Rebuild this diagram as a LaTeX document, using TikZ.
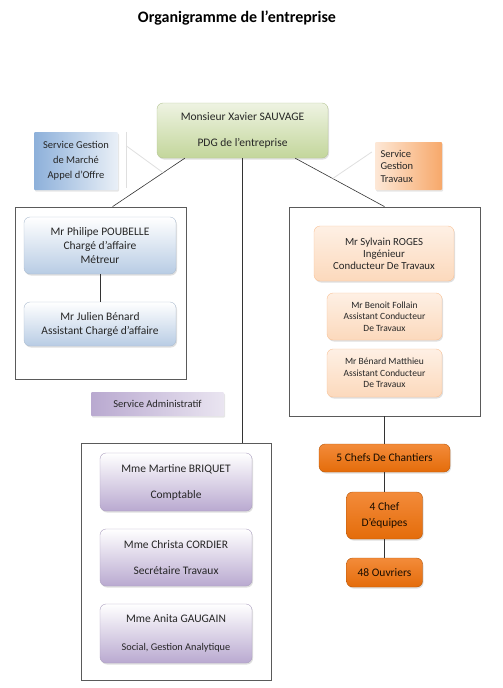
\documentclass[tikz,border=0pt]{standalone}
\usepackage{fontspec}
\setmainfont{Carlito}
\usepackage{xcolor}
\usetikzlibrary{positioning, calc, shadows}

\definecolor{pdggreen}{HTML}{C3D69B}
\definecolor{pdglight}{HTML}{EEF3E2}
\definecolor{bluebox}{HTML}{B8CCE4}
\definecolor{bluedark}{HTML}{8DB0DA}
\definecolor{orlight}{HTML}{FCD9BC}
\definecolor{ordeep}{HTML}{F7A86A}
\definecolor{orstrong}{HTML}{E46C0A}
\definecolor{orhigh}{HTML}{F38B3A}
\definecolor{purplebox}{HTML}{B9A9D0}
\definecolor{framegray}{HTML}{5A5A5A}

\begin{document}
\begin{tikzpicture}[x=1pt, y=-1pt,
    every node/.style={font=\fontsize{11.5}{14}\selectfont, text=black!85, inner sep=0pt, align=center},
    boite/.style={rounded corners=6pt, draw=gray!40, drop shadow={opacity=0.25, shadow xshift=1pt, shadow yshift=-1.5pt}},
    pdgbox/.style={boite, top color=pdglight, bottom color=pdggreen, draw=pdggreen!80!gray},
    bleu/.style={boite, top color=white, bottom color=bluebox, draw=bluebox!80!gray},
    oranger/.style={boite, top color=orlight!40, bottom color=orlight, draw=ordeep!70},
    fonce/.style={boite, top color=orhigh, bottom color=orstrong, draw=orstrong!80!black, text=black!90!orange},
    violet/.style={boite, top color=white, bottom color=purplebox, draw=purplebox!80!gray},
    service/.style={rounded corners=1pt, drop shadow={opacity=0.2, shadow xshift=1pt, shadow yshift=-1.5pt}},
    cadre/.style={draw=framegray, line width=0.8pt},
    lien/.style={draw=black!80, line width=0.6pt},
    faible/.style={draw=gray!25, line width=0.8pt}
]
    \useasboundingbox (0,0) rectangle (503,688);

    % Titre
    \node[font=\fontsize{16}{18}\selectfont\bfseries, text=black] (titre) at (237,18) {Organigramme de l’entreprise};

    % Direction
    \node[pdgbox, minimum width=171pt, minimum height=55pt] (pdg) at (242.5,130.5) {Monsieur Xavier SAUVAGE\\[12pt]PDG de l’entreprise};

    % Services rattachés
    \node[service, left color=bluedark, right color=bluebox!30, minimum width=84pt, minimum height=58pt, font=\fontsize{10.5}{15}\selectfont] (servmarche) at (76,161) {Service Gestion\\de Marché\\Appel d’Offre};
    \node[service, left color=orlight!60, right color=ordeep, minimum width=67pt, minimum height=48pt, text width=56pt, align=left, font=\fontsize{10.5}{12.5}\selectfont] (servtravaux) at (408.5,166) {Service\\Gestion\\Travaux};

    % Cadres
    \node[cadre, minimum width=171pt, minimum height=172pt] (cadregauche) at (100.5,293) {};
    \node[cadre, minimum width=191pt, minimum height=209pt] (cadredroit) at (384.5,311.5) {};
    \node[cadre, minimum width=190pt, minimum height=237pt] (cadrebas) at (176,561.5) {};

    % Pôle affaires
    \node[bleu, minimum width=152pt, minimum height=57pt] (philipe) at (100,245.5) {Mr Philipe POUBELLE\\Chargé d’affaire\\Métreur};
    \node[bleu, minimum width=152pt, minimum height=44pt] (julien) at (100,324) {Mr Julien Bénard\\Assistant Chargé d’affaire};

    % Pôle travaux
    \node[oranger, minimum width=140pt, minimum height=55pt, font=\fontsize{10.8}{12.2}\selectfont] (sylvain) at (384,253.5) {Mr Sylvain ROGES\\Ingénieur\\Conducteur De Travaux};
    \node[oranger, minimum width=115pt, minimum height=47pt, font=\fontsize{9.5}{11.5}\selectfont] (benoit) at (384.5,316.5) {Mr Benoit Follain\\Assistant Conducteur\\De Travaux};
    \node[oranger, minimum width=115pt, minimum height=48pt, font=\fontsize{9.5}{11.5}\selectfont] (matthieu) at (384.5,373) {Mr Bénard Matthieu\\Assistant Conducteur\\De Travaux};

    % Chantier
    \node[fonce, minimum width=131pt, minimum height=28pt] (chefs) at (384.5,458) {5 Chefs De Chantiers};
    \node[fonce, minimum width=76pt, minimum height=47pt] (equipes) at (384.5,515.5) {4 Chef\\[2pt]D’équipes};
    \node[fonce, minimum width=76pt, minimum height=29pt] (ouvriers) at (384.5,572.5) {48 Ouvriers};

    % Administratif
    \node[service, left color=purplebox, right color=purplebox!30, minimum width=133pt, minimum height=24pt, font=\fontsize{10.5}{12}\selectfont] (servadmin) at (157.5,404) {Service Administratif};
    \foreach \nom/\y/\h/\texte in {martine/482/58/{Mme Martine BRIQUET\\[12pt]Comptable},
                                   christa/557.5/57/{Mme Christa CORDIER\\[12pt]Secrétaire Travaux},
                                   anita/633.5/59/{Mme Anita GAUGAIN\\[14pt]{\fontsize{10.3}{12}\selectfont Social, Gestion Analytique}}} {
        \node[violet, minimum width=152pt, minimum height=\h pt] (\nom) at (176,\y) {\texte};
    }

    % Liaisons
    \coordinate (depgauche) at ($(pdg.south west)+(28,0)$);
    \coordinate (depdroit) at ($(pdg.south east)+(-33,0)$);
    \coordinate (arrgauche) at ($(cadregauche.north west)+(98,0)$);
    \draw[lien] (depgauche) -- (arrgauche);
    \draw[lien] (depdroit) -- (cadredroit.north);
    \draw[lien] (pdg.south) -- (pdg.south |- cadrebas.north);
    \draw[lien] (philipe) -- (julien);
    \draw[lien] (cadredroit.south) -- (chefs);
    \draw[lien] (chefs) -- (equipes);
    \draw[lien] (equipes) -- (ouvriers);

    % Rattachements des services
    \draw[faible] ($(servmarche.north east)+(8,0)$) -- ($(servmarche.south east)+(8,-2)$);
    \draw[faible] ($(servmarche.north east)+(8,14)$) -- ($(depgauche)!0.3!(arrgauche)$);
    \draw[faible] ($(depdroit)!0.42!(cadredroit.north)$) -- ($(servtravaux.west)+(-3,-14)$);
\end{tikzpicture}
\end{document}
